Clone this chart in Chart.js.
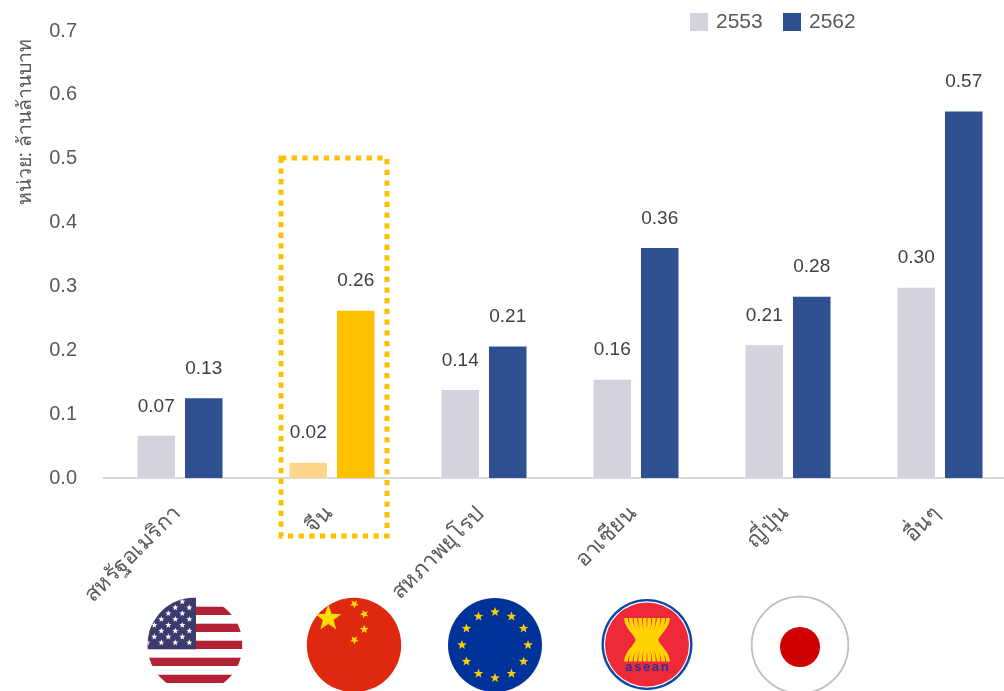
<!DOCTYPE html>
<html lang="th">
<head>
  <meta charset="UTF-8">
  <title>มูลค่าการส่งออก</title>
  <script src="https://cdn.jsdelivr.net/npm/chart.js"></script>
  <style>
    html, body { margin: 0; padding: 0; background: #fff; overflow: hidden; width: 1004px; height: 691px; }
    canvas { display: block; }
  </style>
</head>
<body>
  <canvas id="chart" width="1016" height="691"></canvas>

  <script>
    const categories = ["สหรัฐอเมริกา", "จีน", "สหภาพยุโรป", "อาเซียน", "ญี่ปุ่น", "อื่นๆ"];
    const years = ["2553", "2562"];
    const values2553 = [0.066, 0.024, 0.138, 0.154, 0.208, 0.298];
    const values2562 = [0.125, 0.262, 0.206, 0.36, 0.284, 0.574];
    const labels2553 = ["0.07", "0.02", "0.14", "0.16", "0.21", "0.30"];
    const labels2562 = ["0.13", "0.26", "0.21", "0.36", "0.28", "0.57"];
    const yTicks = [0, 0.1, 0.2, 0.3, 0.4, 0.5, 0.6, 0.7];
    const yTitle = "หน่วย: ล้านล้านบาท";
    const highlight = 1; // จีน

    const FONT = "'Liberation Sans', Arial, sans-serif";
    const barLabels = [labels2553, labels2562];
    const barColors = ["#D3D2DD", "#2E5090"];
    const hiColors = ["#FFD58C", "#FFC000"];

    // star helper for the flags
    function star(ctx, x, y, r, color, rot) {
      ctx.beginPath();
      for (let i = 0; i < 10; i++) {
        const rad = i % 2 ? r * 0.42 : r;
        const a = -Math.PI / 2 + (rot || 0) + i * Math.PI / 5;
        ctx.lineTo(x + rad * Math.cos(a), y + rad * Math.sin(a));
      }
      ctx.closePath();
      ctx.fillStyle = color;
      ctx.fill();
    }

    function circle(ctx, x, y, r, color) {
      ctx.beginPath();
      ctx.arc(x, y, r, 0, Math.PI * 2);
      ctx.fillStyle = color;
      ctx.fill();
    }

    function flagUS(ctx) {
      const cx = 195, cy = 645, r = 47.5;
      ctx.save();
      ctx.beginPath();
      ctx.arc(cx, cy, r, 0, Math.PI * 2);
      ctx.clip();
      ctx.fillStyle = "#fff";
      ctx.fillRect(cx - r, cy - r, r * 2, r * 2);
      ctx.fillStyle = "#B22234";
      for (let i = 0; i < 5; i++) {
        ctx.fillRect(cx - r, 606.7 + i * 17, r * 2, 8.3);
      }
      ctx.fillStyle = "#3C3B6E";
      ctx.fillRect(cx - r, cy - r, 48.5, 51.8);
      for (let row = 0; row < 8; row++) {
        const y = 601.7 + row * 5.85;
        let xs = row % 2 === 0 ? [182.3, 168.3, 154.3] : [189.3, 175.3, 161.3];
        if (row === 7) xs = [189.3, 175.3, 161.3, 147.3];
        xs.forEach(x => star(ctx, x, y, 3.2, "#fff"));
      }
      ctx.restore();
    }

    function flagChina(ctx) {
      circle(ctx, 354, 645, 47.2, "#DE2910");
      const yellow = "#FFDE00";
      star(ctx, 328.3, 618.3, 13.5, yellow);
      star(ctx, 354.3, 604, 4.6, yellow, 0.6);
      star(ctx, 364.3, 614, 4.6, yellow, 0.9);
      star(ctx, 364.3, 629.3, 4.6, yellow, 0);
      star(ctx, 354.3, 640, 4.6, yellow, 0.6);
    }

    function flagEU(ctx) {
      circle(ctx, 495, 645, 47, "#003399");
      for (let i = 0; i < 12; i++) {
        const a = i * Math.PI / 6;
        star(ctx, 495 + 33 * Math.sin(a), 645 - 33 * Math.cos(a), 5, "#FFCC00");
      }
    }

    function flagAsean(ctx) {
      const cx = 647, cy = 644.5;
      circle(ctx, cx, cy, 45.5, "#0B47A8");
      circle(ctx, cx, cy, 43.2, "#fff");
      circle(ctx, cx, cy, 42, "#EE2A3A");
      // rice stalks, pinched at the middle
      ctx.strokeStyle = "#FFD400";
      ctx.lineWidth = 3.7;
      for (let i = 0; i < 10; i++) {
        const t = (i - 4.5) / 4.5;
        const top = cx + t * 21;
        const mid = cx + t * 9.6;
        ctx.beginPath();
        ctx.moveTo(top, 618);
        ctx.bezierCurveTo(top, 629, mid, 634, mid, 640);
        ctx.bezierCurveTo(mid, 646, top, 651, top, 661.5);
        ctx.stroke();
      }
      ctx.fillStyle = "#26349A";
      ctx.font = "bold 13px " + FONT;
      ctx.letterSpacing = "1.6px";
      ctx.textAlign = "center";
      ctx.textBaseline = "middle";
      ctx.fillText("asean", cx + 0.8, 667.5);
      ctx.letterSpacing = "0px";
    }

    function flagJapan(ctx) {
      ctx.beginPath();
      ctx.arc(800, 645, 48.3, 0, Math.PI * 2);
      ctx.strokeStyle = "#BFBFBF";
      ctx.lineWidth = 1.8;
      ctx.stroke();
      circle(ctx, 800, 647, 20, "#D00000");
    }

    const decorations = {
      id: "decorations",
      afterDatasetsDraw(chart) {
        const ctx = chart.ctx;
        ctx.save();

        // value labels above bars
        ctx.font = "19px " + FONT;
        ctx.fillStyle = "#404040";
        ctx.textAlign = "center";
        ctx.textBaseline = "middle";
        chart.data.datasets.forEach((ds, i) => {
          chart.getDatasetMeta(i).data.forEach((bar, j) => {
            ctx.fillText(barLabels[i][j], bar.x, bar.y - 29.5);
          });
        });

        // legend, above the plot and out of the layout flow
        ctx.font = "21px " + FONT;
        ctx.textAlign = "left";
        [690, 783].forEach((x, i) => {
          ctx.fillStyle = barColors[i];
          ctx.fillRect(x, 13, 18, 18);
          ctx.fillStyle = "#595959";
          ctx.fillText(years[i], x + 26, 22);
        });
        ctx.textAlign = "center";

        // y unit
        ctx.save();
        ctx.translate(26, 122);
        ctx.rotate(-Math.PI / 2);
        ctx.font = "19.5px " + FONT;
        ctx.fillStyle = "#595959";
        ctx.fillText(yTitle, 0, 0);
        ctx.restore();

        // dotted box around China
        const mid = chart.scales.x.getPixelForTick(highlight);
        ctx.strokeStyle = "#FFC000";
        ctx.lineWidth = 5;
        ctx.setLineDash([5.3, 5.4]);
        ctx.strokeRect(mid - 51, 158, 106, 378);
        ctx.setLineDash([]);

        flagUS(ctx);
        flagChina(ctx);
        flagEU(ctx);
        flagAsean(ctx);
        flagJapan(ctx);
        ctx.restore();
      }
    };

    const dataset = (i, data) => ({
      label: years[i],
      data,
      backgroundColor: c => c.dataIndex === highlight ? hiColors[i] : barColors[i],
      categoryPercentage: 0.625,
      barPercentage: 0.79
    });

    new Chart(document.getElementById("chart"), {
      type: "bar",
      data: {
        labels: categories,
        datasets: [dataset(0, values2553), dataset(1, values2562)]
      },
      plugins: [decorations],
      options: {
        responsive: false,
        animation: false,
        layout: { padding: { top: 20, left: 0, right: 0, bottom: 0 } },
        plugins: {
          tooltip: { enabled: false },
          legend: { display: false }
        },
        scales: {
          x: {
            grid: { display: false },
            border: { color: "#D9D9D9", width: 2 },
            afterFit(scale) { scale.height = 213; },
            ticks: {
              minRotation: 45,
              maxRotation: 45,
              padding: 15,
              labelOffset: -3,
              color: "#595959",
              font: { size: 22, family: FONT }
            }
          },
          y: {
            min: 0,
            max: 0.7,
            grid: { display: false },
            border: { display: false },
            afterFit(scale) { scale.width = 104; },
            afterBuildTicks(scale) { scale.ticks = yTicks.map(value => ({ value })); },
            ticks: {
              padding: 19,
              color: "#595959",
              font: { size: 20, family: FONT },
              callback: v => v.toFixed(1)
            }
          }
        }
      }
    });
  </script>
</body>
</html>
